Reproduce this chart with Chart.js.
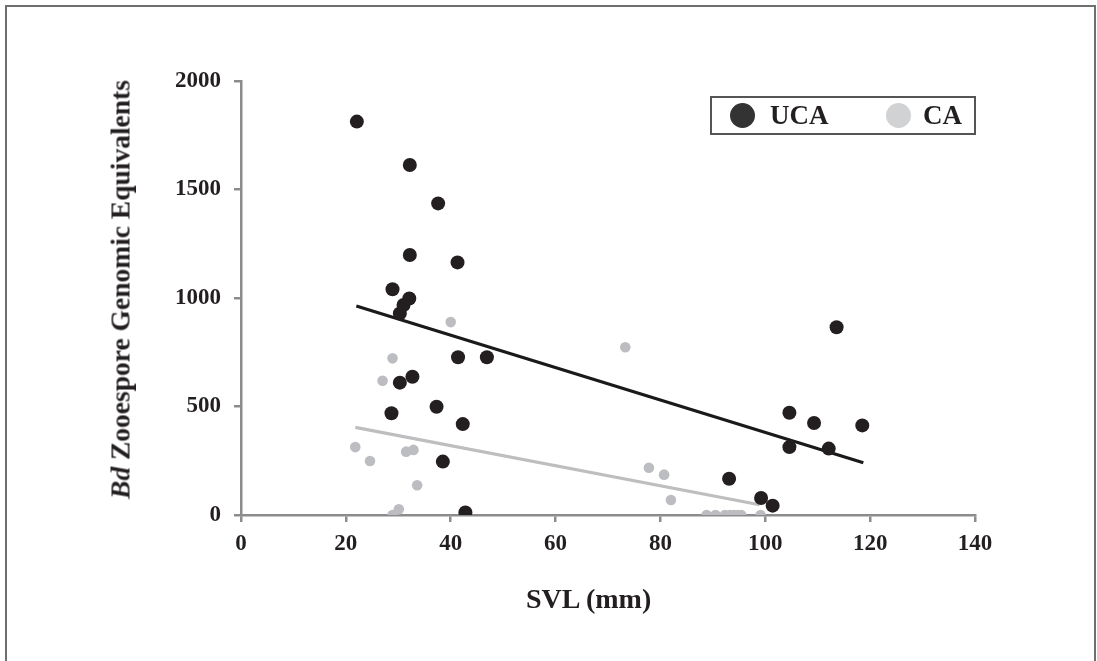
<!DOCTYPE html>
<html>
<head>
<meta charset="utf-8">
<script src="https://cdn.jsdelivr.net/npm/chart.js@4"></script>
<style>
  body { margin: 0; background: #fff; }
  #wrap { position: relative; width: 1097px; height: 661px; overflow: hidden; font-family: "Liberation Serif", "DejaVu Serif", serif; color: #231f20; }
  #frame { position: absolute; left: 5px; top: 5px; width: 1091px; height: 700px; border: 2px solid #6f6f6f; box-sizing: border-box; }
  #cv { position: absolute; left: 0; top: 0; }
  .ttl { position: absolute; font-weight: bold; white-space: nowrap; line-height: 1; }
  #ytitle { font-size: 27.5px; width: 600px; text-align: center; left: -180px; top: 276px; transform: rotate(-90deg); transform-origin: 300px 13.5px; }
  #xtitle { font-size: 28px; left: 526px; top: 585px; }
  #legend { position: absolute; left: 710px; top: 96px; width: 266px; height: 39px; border: 2px solid #555; box-sizing: border-box; }
  .dot { position: absolute; width: 25px; height: 25px; border-radius: 50%; top: 5px; }
  .lab { position: absolute; top: 4px; font-size: 27px; font-weight: bold; line-height: 1; }
</style>
</head>
<body>
<div id="wrap">
  <div id="frame"></div>
  <canvas id="cv" width="1097" height="661"></canvas>
  <div class="ttl" id="ytitle"><i>Bd</i> Zooespore Genomic Equivalents</div>
  <div class="ttl" id="xtitle">SVL (mm)</div>
  <div id="legend">
    <div class="dot" style="left:18px;background:#333;"></div>
    <div class="lab" style="left:58px;">UCA</div>
    <div class="dot" style="left:174px;background:#d1d2d4;"></div>
    <div class="lab" style="left:211px;">CA</div>
  </div>
</div>
<script>
// UCA (black) points
var ucaX = [22.1, 32.2, 37.6, 32.2, 41.3, 28.9, 32.1, 31.0, 30.3, 41.4, 46.9, 32.7, 30.3, 28.7, 37.3, 42.3, 38.5, 42.8,
            113.6, 104.6, 109.3, 118.5, 104.6, 112.1, 93.1, 99.2, 101.4]
var ucaY = [1813, 1613, 1436, 1198, 1164, 1040, 998, 968, 929, 727, 727, 637, 610, 469, 499, 419, 246, 12,
            865, 471, 424, 413, 313, 306, 167, 78, 43]

// CA (grey) points
var caX = [40.0, 28.9, 27.0, 21.8, 24.6, 31.5, 32.9, 33.6, 30.1, 28.9,
           73.3, 77.8, 80.7, 82.0, 88.8, 90.5, 92.3, 93.2, 94.0, 94.8, 95.4, 99.1]
var caY = [889, 722, 619, 313, 249, 292, 300, 137, 26, 0,
           773, 218, 186, 69, 0, 0, 0, 0, 0, 0, 0, 0]

// trend line end points
var ucaLineX = [22.0, 118.7]
var ucaLineY = [963, 241]
var caLineX = [21.8, 98.9]
var caLineY = [404, 47]

var xTicks = [0, 20, 40, 60, 80, 100, 120, 140]
var yTicks = [0, 500, 1000, 1500, 2000]

function pts(xs, ys) {
    var out = []
    for (var i = 0; i < xs.length; i++) out.push({x: xs[i], y: ys[i]})
    return out
}

var tickFont = {family: "'Liberation Serif', serif", size: 23, weight: 'bold'}
var axisGrey = '#8c8c8c'

new Chart(document.getElementById('cv').getContext('2d'), {
    type: 'scatter',
    data: {
        datasets: [
            {label: 'UCA trend', type: 'line', data: pts(ucaLineX, ucaLineY), borderColor: '#1a1a1a', borderWidth: 3.2, pointRadius: 0, fill: false, order: 3},
            {label: 'CA trend', type: 'line', data: pts(caLineX, caLineY), borderColor: '#bdbec0', borderWidth: 3.2, pointRadius: 0, fill: false, order: 4},
            {label: 'CA', data: pts(caX, caY), backgroundColor: '#bcbdc0', pointRadius: 5.3, pointBorderWidth: 0, order: 2},
            {label: 'UCA', data: pts(ucaX, ucaY), backgroundColor: '#231f20', pointRadius: 7, pointBorderWidth: 0, order: 1}
        ]
    },
    options: {
        responsive: false,
        animation: false,
        layout: {padding: {left: 0, top: 81, right: 122, bottom: 0}},
        plugins: {legend: {display: false}, tooltip: {enabled: false}},
        scales: {
            x: {
                type: 'linear', min: 0, max: 140,
                afterFit: function(s) { s.height = 146 },
                afterBuildTicks: function(s) { s.ticks = xTicks.map(function(v) { return {value: v} }) },
                border: {color: axisGrey, width: 2.5},
                grid: {drawOnChartArea: false, drawTicks: true, tickLength: 7, color: axisGrey, lineWidth: 2.5},
                ticks: {font: tickFont, color: '#231f20', padding: 8, maxRotation: 0, callback: function(v) { return String(v) }}
            },
            y: {
                type: 'linear', min: 0, max: 2000,
                afterFit: function(s) { s.width = 241 },
                afterBuildTicks: function(s) { s.ticks = yTicks.map(function(v) { return {value: v} }) },
                border: {color: axisGrey, width: 2.5},
                grid: {drawOnChartArea: false, drawTicks: true, tickLength: 7, color: axisGrey, lineWidth: 2.5},
                ticks: {font: tickFont, color: '#231f20', padding: 13, callback: function(v) { return String(v) }}
            }
        }
    }
})
</script>
</body>
</html>
